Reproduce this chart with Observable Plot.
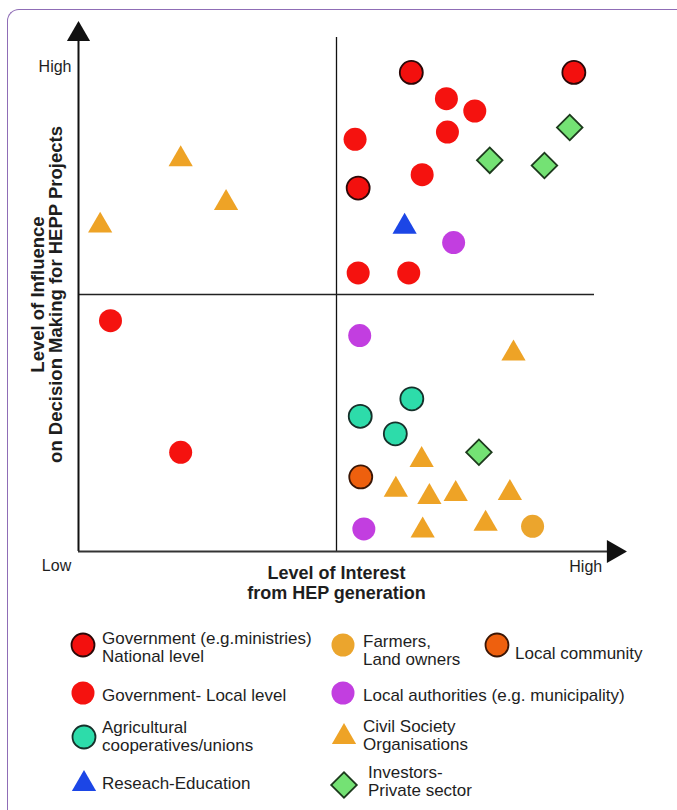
<!DOCTYPE html>
<html>
<head>
<meta charset="utf-8">
<script src="https://cdn.jsdelivr.net/npm/d3@7"></script>
<script src="https://cdn.jsdelivr.net/npm/@observablehq/plot@0.6"></script>
<style>
  html, body { margin: 0; padding: 0; background: #fff; }
  body { width: 677px; height: 810px; position: relative; overflow: hidden;
         font-family: "Liberation Sans", Arial, sans-serif; color: #1e1e1e; }
  #frame { position: absolute; left: 7px; top: 9px; width: 720px; height: 860px;
           border-left: 1.6px solid #8f6db6; border-top: 1.6px solid #8f6db6;
           border-top-left-radius: 12px; pointer-events: none; }
  #chart { position: absolute; left: 0; top: 0; }
  #legend { position: absolute; left: 0; top: 0; width: 677px; height: 810px; }
  .item { position: absolute; font-size: 17px; line-height: 17.5px; white-space: nowrap; }
  .sym { position: absolute; }
</style>
</head>
<body>
<div id="chart"></div>
<div id="legend"></div>
<div id="frame"></div>
<script>
// ---- data: [interest (x), influence (y)] on a 0-10 scale ----
const nationalGov = [[6.45, 9.32], [9.60, 9.32], [5.42, 7.07]];
const localGov = [[7.13, 8.81], [7.68, 8.57], [5.36, 8.02], [7.15, 8.16], [6.66, 7.33],
                  [5.42, 5.42], [6.40, 5.42], [0.62, 4.49], [1.98, 1.93]];
const investors = [[7.97, 7.61], [9.03, 7.51], [9.52, 8.25], [7.76, 1.93]];
const research = [[6.32, 6.32]];
const localAuthorities = [[7.27, 6.01], [5.45, 4.20], [5.53, 0.44]];
const civilSociety = [[1.98, 7.63], [2.86, 6.78], [0.42, 6.34], [8.43, 3.85], [6.65, 1.78],
                      [6.15, 1.20], [6.80, 1.06], [7.31, 1.12], [8.36, 1.14], [6.67, 0.41], [7.89, 0.54]];
const agricultural = [[6.46, 2.97], [5.46, 2.63], [6.14, 2.29]];
const localCommunity = [[5.47, 1.45]];
const farmers = [[8.80, 0.49]];

const quadrantSplit = 5;
const axisMax = 10;
const xTickLabels = ["Low", "High"];
const yTickLabels = ["High"];
const xTitle = "Level of Interest\nfrom HEP generation";
const yTitle = "Level of Influence\non Decision Making for HEPP Projects";

const groups = [
  {key: "national", label: "Government (e.g.ministries)\nNational level", data: nationalGov},
  {key: "farmers", label: "Farmers,\nLand owners", data: farmers},
  {key: "community", label: "Local community", data: localCommunity},
  {key: "local", label: "Government- Local level", data: localGov},
  {key: "authorities", label: "Local authorities (e.g. municipality)", data: localAuthorities},
  {key: "agri", label: "Agricultural\ncooperatives/unions", data: agricultural},
  {key: "civil", label: "Civil Society\nOrganisations", data: civilSociety},
  {key: "research", label: "Reseach-Education", data: research},
  {key: "investors", label: "Investors-\nPrivate sector", data: investors}
];

// ---- styles ----
const styles = {
  national:    {symbol: "circle",   r: 11.5, fill: "#f3100e", stroke: "#2a0808", rotate: 0},
  local:       {symbol: "circle",   r: 11.5, fill: "#f5120f", stroke: "none",    rotate: 0},
  farmers:     {symbol: "circle",   r: 11.5, fill: "#eba52d", stroke: "none",    rotate: 0},
  community:   {symbol: "circle",   r: 11.5, fill: "#ee600e", stroke: "#3a1606", rotate: 0},
  authorities: {symbol: "circle",   r: 11.5, fill: "#c23ee0", stroke: "none",    rotate: 0},
  agri:        {symbol: "circle",   r: 11.5, fill: "#2ddcaa", stroke: "#16302a", rotate: 0},
  civil:       {symbol: "triangle", r: 9,    fill: "#eea326", stroke: "none",    rotate: 0},
  research:    {symbol: "triangle", r: 9,    fill: "#1c46e6", stroke: "none",    rotate: 0},
  investors:   {symbol: "square",   r: 10.2, fill: "#74e274", stroke: "#1d3a1d", rotate: 45}
};

const font = '"Liberation Sans", Arial, sans-serif';
const arrowStyle = {symbol: "triangle", r: 8.6, fill: "#111"};
const xArrowTip = 10.37, yArrowTip = 10.06;

const pointMarks = groups.map(g => {
  const s = styles[g.key];
  return Plot.dot(g.data, {
    x: d => d[0], y: d => d[1], symbol: s.symbol, r: s.r, fill: s.fill,
    stroke: s.stroke, strokeWidth: 1.8, rotate: s.rotate
  });
});

const chart = Plot.plot({
  width: 677, height: 610,
  marginLeft: 78, marginRight: 83, marginTop: 37, marginBottom: 59,
  x: {domain: [0, axisMax], axis: null},
  y: {domain: [0, axisMax], axis: null},
  style: {fontFamily: font, background: "transparent", overflow: "visible"},
  marks: [
    // quadrant lines
    Plot.ruleX([quadrantSplit], {y1: 0, y2: axisMax, stroke: "#111", strokeWidth: 1.3}),
    Plot.ruleY([quadrantSplit], {x1: 0, x2: axisMax, stroke: "#222", strokeWidth: 1.3}),
    // axes with arrows
    Plot.ruleX([0], {y1: 0, y2: yArrowTip - 0.1, stroke: "#111", strokeWidth: 2}),
    Plot.ruleY([0], {x1: 0, x2: xArrowTip - 0.1, stroke: "#333", strokeWidth: 2}),
    Plot.dot([[0, yArrowTip]], {x: d => d[0], y: d => d[1], ...arrowStyle}),
    Plot.dot([[xArrowTip, 0]], {x: d => d[0], y: d => d[1], ...arrowStyle, rotate: 90}),
    // tick labels
    Plot.text([yTickLabels[0]], {x: 0, y: 9.42, text: d => d, textAnchor: "end", dx: -7,
      fontSize: 16, fill: "#1e1e1e"}),
    Plot.text([xTickLabels[0]], {x: 0, y: 0, text: d => d, dx: -22, dy: 14,
      fontSize: 16, fill: "#1e1e1e"}),
    Plot.text([xTickLabels[1]], {x: 9.83, y: 0, text: d => d, dy: 15,
      fontSize: 16, fill: "#1e1e1e"}),
    // titles
    Plot.text([xTitle], {x: quadrantSplit, y: 0, text: d => d, dy: 31, fontSize: 18,
      fontWeight: "bold", lineHeight: 1.1, fill: "#1e1e1e"}),
    Plot.text([yTitle], {x: 0, y: quadrantSplit, text: d => d, dx: -31, rotate: -90,
      fontSize: 18.5, fontWeight: "bold", lineHeight: 0.98, fill: "#1e1e1e"}),
    ...pointMarks
  ]
});
document.getElementById("chart").appendChild(chart);

// ---- legend (layout) ----
const legendLayout = {
  national:    {sx: 83,  sy: 645, tx: 102, ty: 630},
  farmers:     {sx: 343, sy: 645, tx: 363, ty: 633},
  community:   {sx: 497, sy: 645, tx: 515, ty: 645},
  local:       {sx: 83,  sy: 693, tx: 102, ty: 687},
  authorities: {sx: 343, sy: 693, tx: 363, ty: 687},
  agri:        {sx: 84,  sy: 737, tx: 102, ty: 719},
  civil:       {sx: 344, sy: 737, tx: 363, ty: 718},
  research:    {sx: 84,  sy: 784, tx: 102, ty: 775},
  investors:   {sx: 344, sy: 785, tx: 368, ty: 764}
};
const legend = document.getElementById("legend");
for (const g of groups) {
  const s = styles[g.key], L = legendLayout[g.key];
  const size = 32;
  const svg = d3.create("svg").attr("class", "sym").attr("width", size).attr("height", size)
    .style("left", (L.sx - size / 2) + "px").style("top", (L.sy - size / 2) + "px");
  const sym = {circle: d3.symbolCircle, triangle: d3.symbolTriangle, square: d3.symbolSquare}[s.symbol];
  svg.append("path")
    .attr("d", d3.symbol(sym, s.r * s.r * Math.PI)())
    .attr("transform", `translate(${size / 2},${size / 2}) rotate(${s.rotate})`)
    .attr("fill", s.fill).attr("stroke", s.stroke).attr("stroke-width", 1.8);
  legend.appendChild(svg.node());
  const div = document.createElement("div");
  div.className = "item";
  div.style.left = L.tx + "px";
  div.style.top = L.ty + "px";
  div.innerHTML = g.label.split("\n").join("<br>");
  legend.appendChild(div);
}
</script>
</body>
</html>
